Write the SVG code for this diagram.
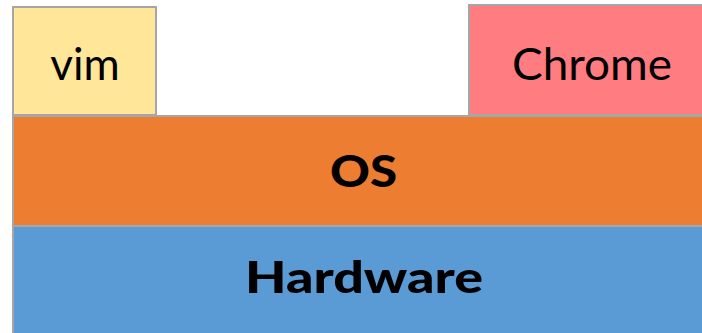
<svg xmlns="http://www.w3.org/2000/svg" width="702" height="333" viewBox="0 0 702 333">
<style>
.box{stroke:#A6A6A6;stroke-width:2}
.t{font-family:Lato,"Liberation Sans",sans-serif;font-size:44px;fill:#000;text-anchor:middle}
.b{font-weight:900}
</style>
<rect width="702" height="333" fill="#FFFFFF"/>
<g id="hardware">
<rect class="box" x="13" y="226" width="700" height="120" fill="#5B9BD5"/>
<text class="t b" x="364" y="293" textLength="238" lengthAdjust="spacingAndGlyphs">Hardware</text>
</g>
<g id="os">
<rect class="box" x="13" y="116" width="700" height="110" fill="#ED7D31"/>
<text class="t b" x="363.5" y="187" textLength="67" lengthAdjust="spacingAndGlyphs">OS</text>
</g>
<g id="vim">
<rect class="box" x="13" y="7" width="143" height="108" fill="#FFE699"/>
<text class="t" x="85" y="80">vim</text>
</g>
<g id="chrome">
<rect class="box" x="469" y="5" width="250" height="110" fill="#FF7C80"/>
<text class="t" x="592" y="80" textLength="160" lengthAdjust="spacingAndGlyphs">Chrome</text>
</g>
<g id="connectors"/>
</svg>
